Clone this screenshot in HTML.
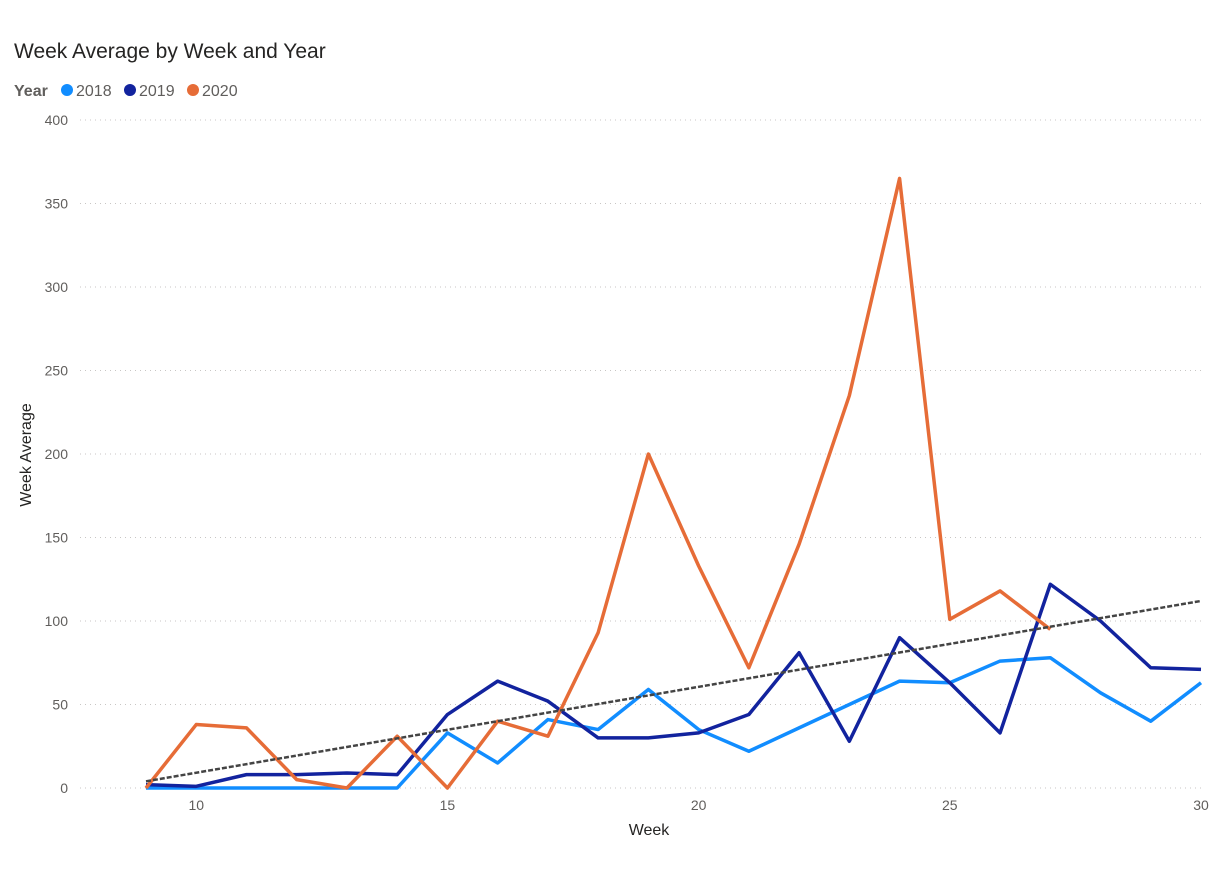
<!DOCTYPE html>
<html><head><meta charset="utf-8">
<style>
body{margin:0;background:#fff;width:1230px;height:884px;overflow:hidden;font-family:"Liberation Sans",sans-serif;}
</style></head>
<body>
<svg width="1230" height="884" xmlns="http://www.w3.org/2000/svg" id="chart">
<text x="14" y="58" font-size="21" fill="#252423">Week Average by Week and Year</text>
<g font-size="16">
<text x="14" y="96" font-weight="bold" fill="#605e5c">Year</text>
<circle cx="67" cy="90" r="6" fill="#118dff"/>
<text x="76" y="96" fill="#605e5c">2018</text>
<circle cx="130" cy="90" r="6" fill="#12239e"/>
<text x="139" y="96" fill="#605e5c">2019</text>
<circle cx="193" cy="90" r="6" fill="#e66c37"/>
<text x="202" y="96" fill="#605e5c">2020</text>
</g>
<text transform="translate(31,455) rotate(-90)" text-anchor="middle" font-size="16" fill="#252423">Week Average</text>
<text x="649" y="835" text-anchor="middle" font-size="16" fill="#252423">Week</text>
<g id="grid"></g><g id="ticks"></g><g id="series"></g>
</svg>
<script>
const weeks=[9,10,11,12,13,14,15,16,17,18,19,20,21,22,23,24,25,26,27,28,29,30];
const s2018=[0,0,0,0,0,0,33,15,41,35,59,35,22,36,50,64,63,76,78,57,40,63];
const s2019=[2,1,8,8,9,8,44,64,52,30,30,33,44,81,28,90,63,33,122,100,72,71];
const s2020=[0,38,36,5,0,31,0,40,31,93,200,133,72,146,235,365,101,118,95];
const yTicks=[0,50,100,150,200,250,300,350,400];
const xTicks=[10,15,20,25,30];
const trendStart=4, trendEnd=112;
const NS="http://www.w3.org/2000/svg";
const x=w=>146+(w-9)*(1201-146)/21;
const y=v=>788-v*(788-120)/400;
function mk(tag,attrs,parent){const e=document.createElementNS(NS,tag);for(const k in attrs)e.setAttribute(k,attrs[k]);document.getElementById(parent).appendChild(e);return e;}
yTicks.forEach(t=>{
 const l=mk('line',{x1:80,x2:1205,y1:y(t),y2:y(t),stroke:'#c8c6c4','stroke-dasharray':'1 4'},'grid');
 
 
 const tx=mk('text',{x:68,y:y(t)+5,'text-anchor':'end','font-size':14,fill:'#605e5c'},'ticks');
 tx.textContent=t;
 
 
});
xTicks.forEach(t=>{
 const tx=mk('text',{x:x(t),y:810,'text-anchor':'middle','font-size':14,fill:'#605e5c'},'ticks');
 tx.textContent=t;
 
 
});
function line(vals,color,name){
 const pts=vals.map((v,i)=>x(weeks[i])+','+y(v)).join(' ');
 const p=mk('polyline',{points:pts,fill:'none',stroke:color,'stroke-width':3.5,'stroke-linejoin':'round'},'series');
 
 
}
line(s2018,'#118dff','series-2018');
line(s2019,'#12239e','series-2019');
line(s2020,'#e66c37','series-2020');
const tr=mk('line',{x1:x(weeks[0]),y1:y(trendStart),x2:x(weeks[weeks.length-1]),y2:y(trendEnd),stroke:'#444','stroke-width':2.5,'stroke-dasharray':'5 2'},'series');


</script>
</body></html>
